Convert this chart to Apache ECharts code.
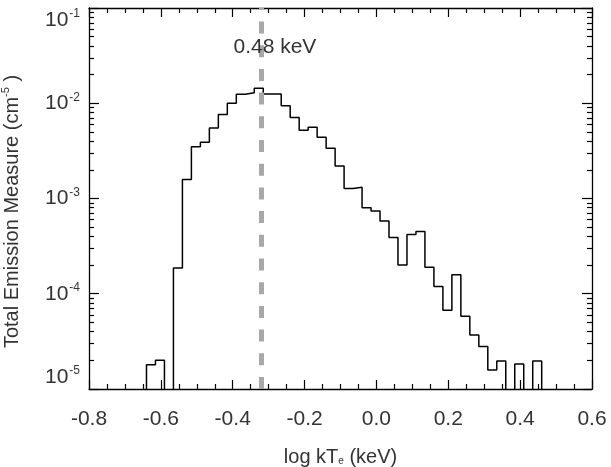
<!DOCTYPE html>
<html style="height: 100%">
<head>
  <meta charset="utf-8">
  <title>emission measure</title>
</head>
<body style="height: 100%; margin: 0; background: #fff">
<div id="container" style="width: 611px; height: 467px"></div>
<script src="https://cdn.jsdelivr.net/npm/echarts@6/dist/echarts.min.js"></script>
<script>
  // histogram bins in log kTe (keV)
  var binStart = -0.64;
  var binWidth = 0.025;
  // total emission measure per bin (cm^-5), 0 = empty bin
  var emValues = [
    1.8e-5, 2.0e-5, 0, 1.86e-4, 1.58e-3, 3.5e-3, 3.9e-3, 5.5e-3, 7.6e-3, 1.0e-2,
    1.24e-2, 1.29e-2, 1.44e-2, 1.25e-2, 1.25e-2, 9.4e-3, 7.1e-3, 5.2e-3, 5.6e-3, 4.4e-3,
    3.36e-3, 2.2e-3, 1.27e-3, 1.31e-3, 8.0e-4, 7.4e-4, 5.8e-4, 3.9e-4, 2.0e-4, 4.2e-4,
    4.5e-4, 1.9e-4, 1.19e-4, 6.7e-5, 1.58e-4, 5.8e-5, 3.7e-5, 2.8e-5, 1.58e-5, 1.97e-5,
    0, 1.83e-5, 0, 1.97e-5
  ];
  var peakKeV = 0.48;
  var peakLabel = '0.48 keV';
  var peakLabelY = 0.039;
  var decadeTicks = [1e-5, 1e-4, 1e-3, 1e-2, 1e-1];
  var BELOW = 1e-7; // draws empty bins down past the axis

  var minorTicks = [];
  decadeTicks.slice(0, 4).forEach(function (d) {
    for (var m = 2; m <= 9; m++) minorTicks.push(+(m * d).toPrecision(3));
  });

  // step outline of the histogram
  var points = [];
  points.push([binStart, BELOW]);
  emValues.forEach(function (v, i) {
    points.push([+(binStart + i * binWidth).toFixed(4), v > 0 ? v : BELOW]);
  });
  var last = emValues[emValues.length - 1];
  var endEdge = +(binStart + emValues.length * binWidth).toFixed(4);
  points.push([endEdge, last > 0 ? last : BELOW]);
  points.push([endEdge, BELOW]);

  var font = 'Liberation Sans';
  var txt = '#333';

  // ticks: 'major' | 'minor' | null ; labels: list of values or null
  function yAx(pos, ticks, labels, vAlign, withName) {
    return {
      type: 'log', logBase: 10, min: 1e-5, max: 1e-1, position: pos,
      axisLine: { show: ticks === 'major', onZero: false, lineStyle: { color: '#000', width: 1.3 } },
      axisTick: {
        show: !!ticks, inside: true, length: ticks === 'major' ? 10 : 5,
        customValues: ticks === 'major' ? decadeTicks : minorTicks,
        lineStyle: { color: '#000', width: 1.2 }
      },
      axisLabel: labels ? {
        show: true, margin: 9, customValues: labels, verticalAlign: vAlign || 'middle',
        formatter: function (v) {
          return '{b|10}{s|' + Math.round(Math.log10(v)) + '}';
        },
        rich: {
          b: { fontSize: 21, fontFamily: font, color: txt, lineHeight: 22 },
          s: { fontSize: 12, fontFamily: font, color: txt, verticalAlign: 'top', padding: [0, 0, 12, 1] }
        }
      } : { show: false },
      splitLine: { show: false },
      name: withName ? 'Total Emission Measure (cm{s|-5} )' : '',
      nameLocation: 'middle',
      nameGap: 64,
      nameTextStyle: {
        fontSize: 20, fontFamily: font, color: txt, padding: [0, 26, 0, 0],
        rich: { s: { fontSize: 11, fontFamily: font, color: txt, padding: [0, 0, 14, 0] } }
      }
    };
  }

  function xAx(pos, labels) {
    return {
      type: 'value', min: -0.8, max: 0.6, interval: 0.2, position: pos,
      axisLine: { show: true, onZero: false, lineStyle: { color: '#000', width: 1.3 } },
      axisTick: { show: true, inside: true, length: 9, lineStyle: { color: '#000', width: 1.2 } },
      minorTick: { show: true, splitNumber: 4, length: 5, lineStyle: { color: '#000', width: 1.2 } },
      axisLabel: {
        show: labels, margin: 20, fontSize: 21, fontFamily: font, color: txt,
        formatter: function (v) { return v.toFixed(1); }
      },
      splitLine: { show: false },
      name: labels ? 'log kT{e|e} (keV)' : '',
      nameLocation: 'middle',
      nameGap: 58,
      nameTextStyle: {
        fontSize: 20, fontFamily: font, color: txt,
        rich: { e: { fontSize: 10, fontFamily: font, color: txt, padding: [8, 0, 0, 0] } }
      }
    };
  }

  var myChart = echarts.init(document.getElementById('container'));
  var option = {
    animation: false,
    backgroundColor: '#fff',
    grid: { left: 89, right: 19, top: 8, bottom: 78, containLabel: false, outerBoundsMode: 'none' },
    xAxis: [xAx('bottom', true), xAx('top', false)],
    yAxis: [
      yAx('left', 'major', [1e-4, 1e-3, 1e-2], 'middle', true),
      yAx('left', 'minor', [1e-1], 'top', false),
      yAx('left', null, [1e-5], 'bottom', false),
      yAx('right', 'major', null),
      yAx('right', 'minor', null)
    ],
    series: [
      {
        type: 'line',
        data: points,
        step: 'end',
        showSymbol: false,
        symbol: 'none',
        clip: true,
        lineStyle: { color: '#000', width: 1.5 },
        markLine: {
          silent: true,
          symbol: 'none',
          lineStyle: { color: '#a8a8a8', width: 5, type: [12, 11.7] },
          label: { show: false },
          data: [{ xAxis: Math.log10(peakKeV) }]
        },
        markPoint: {
          symbol: 'circle',
          symbolSize: 0,
          label: {
            show: true, formatter: peakLabel, offset: [13, 0],
            fontSize: 21, fontFamily: font, color: txt
          },
          data: [{ coord: [Math.log10(peakKeV), peakLabelY] }]
        }
      }
    ]
  };
  myChart.setOption(option);
</script>
</body>
</html>
